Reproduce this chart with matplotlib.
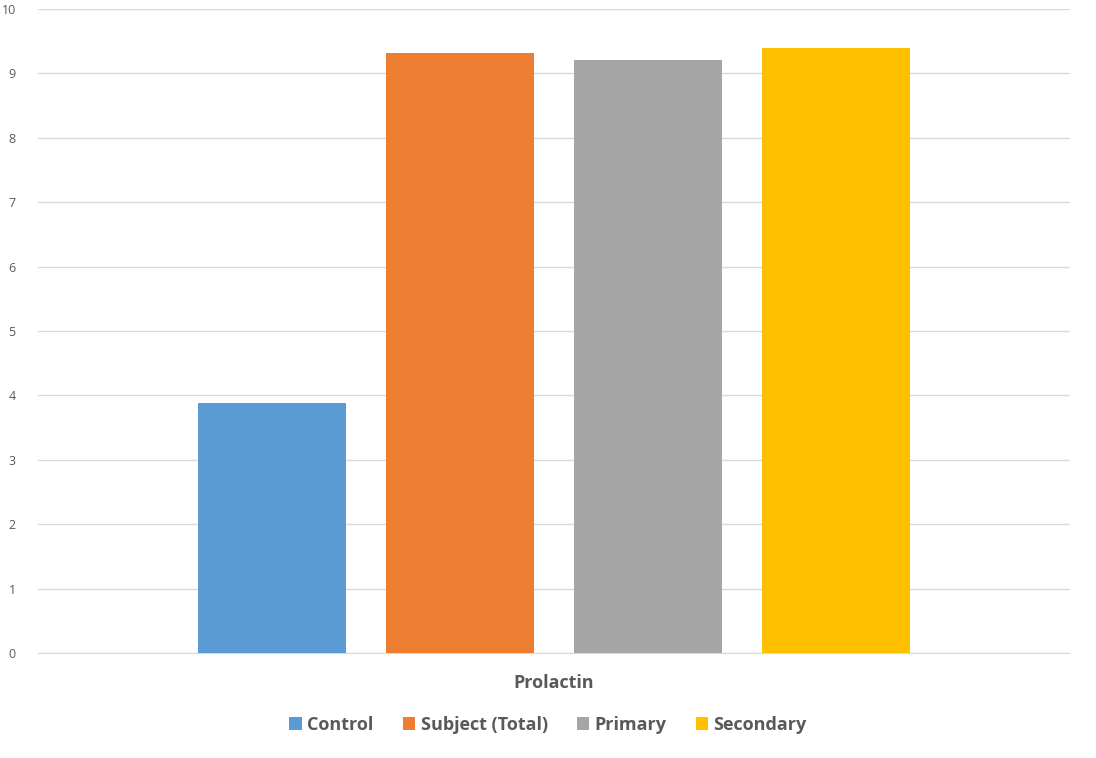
import matplotlib
matplotlib.use("Agg")
import matplotlib.pyplot as plt
from matplotlib.patches import Patch

categories = ["Prolactin"]
series = ["Control", "Subject (Total)", "Primary", "Secondary"]
values = [3.88, 9.32, 9.21, 9.39]
colors = ["#5B9BD5", "#ED7D31", "#A5A5A5", "#FFC000"]
yticks = list(range(0, 11))

plt.rcParams['font.family'] = ['Open Sans', 'DejaVu Sans']

W, H = 1096, 758
fig = plt.figure(figsize=(W/100, H/100), dpi=100)
ax = fig.add_axes([38/W, 1 - 653/H, (1070-38)/W, (653-9)/H])

step = 0.182
width = 0.1434
for i, (s, v, c) in enumerate(zip(series, values, colors)):
    ax.bar(0.5 + (i - 1.5) * step, v, width=width, color=c, label=s, zorder=3)

ax.set_xlim(0, 1)
ax.set_ylim(0, 10)
ax.set_yticks(yticks)
ax.set_yticklabels([str(t) for t in yticks])
ax.yaxis.grid(True, color="#D9D9D9", linewidth=1, zorder=0)
ax.set_axisbelow(True)
for sp in ["top", "right", "left"]:
    ax.spines[sp].set_visible(False)
ax.spines["bottom"].set_color("#D9D9D9")
ax.tick_params(axis="y", length=0, pad=16, labelsize=9, labelcolor="#595959")
ax.set_xticks([0.5])
ax.set_xticklabels(categories, fontsize=13, fontweight="bold", color="#595959")
ax.tick_params(axis="x", length=0, pad=15)

handles = [Patch(facecolor=c, edgecolor="none", label=s) for s, c in zip(series, colors)]
leg = fig.legend(handles=handles, loc="center", bbox_to_anchor=(548/W, 1 - 725/H), ncol=4,
                 frameon=False, handlelength=0.7, handleheight=0.7, handletextpad=0.3,
                 columnspacing=1.6, prop={"size": 13, "weight": "bold"})
for t in leg.get_texts():
    t.set_color("#595959")

fig.savefig("out.png", dpi=100, facecolor="white")
